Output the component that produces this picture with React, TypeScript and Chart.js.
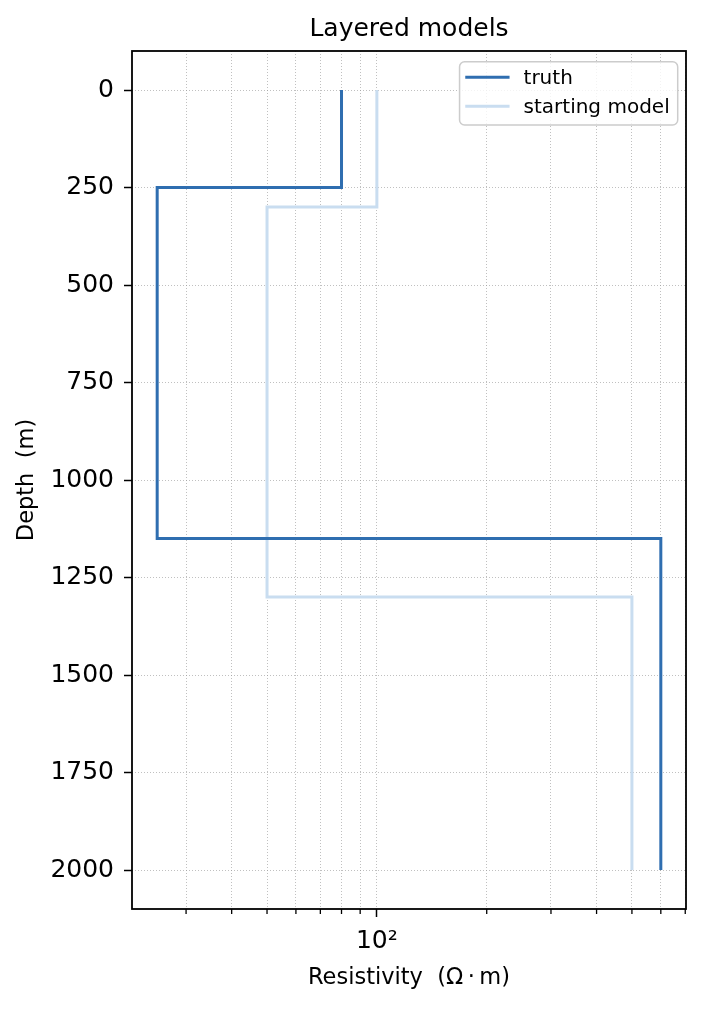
import React, { useEffect, useRef } from 'react';
import { Chart, registerables } from 'chart.js';

Chart.register(...registerables);

// ---- data ----
const truthResistivity = [80, 25, 600];
const truthDepths = [0, 250, 1150, 2000];
const startResistivity = [100, 50, 500];
const startDepths = [0, 300, 1300, 2000];

const depthTicks = [0, 250, 500, 750, 1000, 1250, 1500, 1750, 2000];
const resMajorTicks = [100];
const resMinorTicks = [30, 40, 50, 60, 70, 80, 90, 200, 300, 400, 500, 600, 700];

const seriesLabels = ['truth', 'starting model'];
const seriesColors = ['#2f6eb0', '#c9ddf0'];

const FONT = '"DejaVu Sans", "Liberation Sans", sans-serif';
const GRID = 'rgba(150,150,150,0.75)';

function layerPoints(res: number[], depths: number[]) {
  const pts: { x: number; y: number }[] = [];
  res.forEach((r, i) => {
    pts.push({ x: r, y: depths[i] });
    pts.push({ x: r, y: depths[i + 1] });
  });
  return pts;
}

const SUP: Record<string, string> = { '0': '⁰', '1': '¹', '2': '²', '3': '³', '4': '⁴', '5': '⁵', '6': '⁶', '7': '⁷', '8': '⁸', '9': '⁹', '-': '⁻' };
const sup = (n: number) => String(n).split('').map((c) => SUP[c] || c).join('');

// axis limits like matplotlib's 5% margins
const allRes = [...truthResistivity, ...startResistivity];
const lMin = Math.log10(Math.min(...allRes));
const lMax = Math.log10(Math.max(...allRes));
const lMargin = 0.05 * (lMax - lMin);
const xMin = Math.pow(10, lMin - lMargin);
const xMax = Math.pow(10, lMax + lMargin);
const allDepths = [...truthDepths, ...startDepths];
const dMin = Math.min(...allDepths);
const dMax = Math.max(...allDepths);
const dMargin = 0.05 * (dMax - dMin);
const yMin = dMin - dMargin;
const yMax = dMax + dMargin;

const decorPlugin = {
  id: 'decor',
  afterDraw(chart: any) {
    const { ctx, chartArea: a, scales } = chart;
    ctx.save();
    // minor x ticks
    ctx.strokeStyle = '#000';
    ctx.lineWidth = 1.3;
    resMinorTicks.forEach((v) => {
      const px = scales.x.getPixelForValue(v);
      if (px < a.left - 0.5 || px > a.right + 0.5) return;
      ctx.beginPath();
      ctx.moveTo(px, a.bottom);
      ctx.lineTo(px, a.bottom + 5);
      ctx.stroke();
    });
    // frame (all four spines)
    ctx.lineWidth = 1.8;
    ctx.strokeRect(a.left, a.top, a.right - a.left, a.bottom - a.top);

    // legend (upper right)
    const fontSize = 20;
    ctx.font = `${fontSize}px ${FONT}`;
    const ds = chart.data.datasets;
    const maxW = Math.max(...ds.map((d: any) => ctx.measureText(d.label).width));
    const boxRight = a.right - 8.3;
    const boxTop = a.top + 10.7;
    const textOff = 64;
    const boxW = textOff + maxW + 8;
    const boxLeft = boxRight - boxW;
    const rowH = 29;
    const boxH = 63.3;
    ctx.beginPath();
    if ((ctx as any).roundRect) (ctx as any).roundRect(boxLeft, boxTop, boxW, boxH, 5);
    else ctx.rect(boxLeft, boxTop, boxW, boxH);
    ctx.fillStyle = 'rgba(255,255,255,0.8)';
    ctx.fill();
    ctx.strokeStyle = '#cccccc';
    ctx.lineWidth = 1.5;
    ctx.stroke();
    ds.forEach((d: any, i: number) => {
      const ly = boxTop + 15.5 + i * rowH;
      ctx.beginPath();
      ctx.strokeStyle = d.borderColor;
      ctx.lineWidth = 3;
      ctx.moveTo(boxLeft + 5.7, ly);
      ctx.lineTo(boxLeft + 50, ly);
      ctx.stroke();
      ctx.fillStyle = '#000';
      ctx.textAlign = 'left';
      ctx.textBaseline = 'middle';
      ctx.fillText(d.label, boxLeft + textOff, ly + 1.5);
    });
    ctx.restore();
  },
};

export default function App() {
  const canvasRef = useRef<HTMLCanvasElement | null>(null);

  useEffect(() => {
    document.body.style.margin = '0';
    const canvas = canvasRef.current;
    if (!canvas) return;
    const chart = new Chart(canvas, {
      type: 'line',
      data: {
        datasets: [
          {
            label: seriesLabels[0],
            data: layerPoints(truthResistivity, truthDepths),
            borderColor: seriesColors[0],
            borderWidth: 3,
            pointRadius: 0,
            fill: false,
            tension: 0,
          },
          {
            label: seriesLabels[1],
            data: layerPoints(startResistivity, startDepths),
            borderColor: seriesColors[1],
            borderWidth: 3,
            pointRadius: 0,
            fill: false,
            tension: 0,
          },
        ],
      },
      options: {
        animation: false,
        responsive: true,
        maintainAspectRatio: false,
        events: [],
        layout: { padding: { left: 0, right: 18, top: 0, bottom: 0 } },
        plugins: {
          legend: { display: false },
          tooltip: { enabled: false },
          title: {
            display: true,
            text: 'Layered models',
            color: '#000',
            fullSize: false,
            font: { family: FONT, size: 25, weight: 'normal' },
            padding: { top: 14, bottom: 7 },
          },
        },
        scales: {
          x: {
            type: 'logarithmic',
            position: 'bottom',
            min: xMin,
            max: xMax,
            afterBuildTicks: (s: any) => {
              s.ticks = [...resMinorTicks, ...resMajorTicks].sort((a, b) => a - b).map((v) => ({ value: v }));
            },
            afterFit: (s: any) => {
              s.height = 101;
            },
            ticks: {
              autoSkip: false,
              maxRotation: 0,
              minRotation: 0,
              padding: 9,
              color: '#000',
              font: { family: FONT, size: 25 },
              callback: (v: any) => (resMajorTicks.includes(Number(v)) ? '10' + sup(Math.round(Math.log10(Number(v)))) : ''),
            },
            grid: {
              color: GRID,
              lineWidth: 0.8,
              drawTicks: true,
              tickLength: 8,
              tickWidth: 1.5,
              tickColor: (c: any) => (c.tick && resMajorTicks.includes(c.tick.value) ? '#000' : 'rgba(0,0,0,0)'),
              tickBorderDash: [],
            },
            border: { display: false, dash: [1, 2] },
            title: {
              display: true,
              text: 'Resistivity  (Ω\u2009·\u2009m)',
              color: '#000',
              font: { family: FONT, size: 22.5 },
              padding: { top: 0, bottom: 18.5 },
            },
          },
          y: {
            type: 'linear',
            reverse: true,
            min: yMin,
            max: yMax,
            afterBuildTicks: (s: any) => {
              s.ticks = depthTicks.map((v) => ({ value: v }));
            },
            afterFit: (s: any) => {
              s.width = 132;
            },
            ticks: {
              autoSkip: false,
              padding: 10,
              color: '#000',
              font: { family: FONT, size: 25 },
              callback: (v: any) => String(v),
            },
            grid: {
              color: GRID,
              lineWidth: 0.8,
              drawTicks: true,
              tickLength: 8,
              tickWidth: 1.5,
              tickColor: '#000',
              tickBorderDash: [],
            },
            border: { display: false, dash: [1, 2] },
            title: {
              display: true,
              text: 'Depth  (m)',
              color: '#000',
              font: { family: FONT, size: 22.5 },
              padding: { top: 13.5, bottom: 0 },
            },
          },
        },
      },
      plugins: [decorPlugin],
    } as any);
    return () => chart.destroy();
  }, []);

  return (
    <div style={{ width: 704, height: 1010, position: 'relative' }}>
      <canvas ref={canvasRef} />
    </div>
  );
}
